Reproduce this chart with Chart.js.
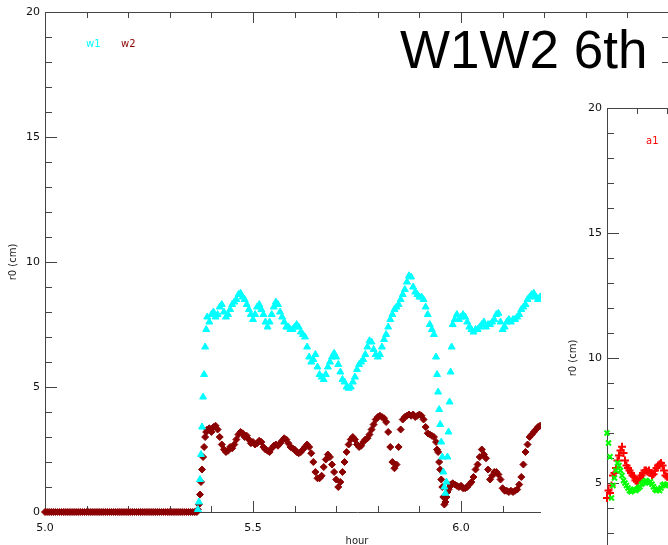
<!DOCTYPE html>
<html>
<head>
<meta charset="utf-8">
<title>W1W2 6th</title>
<script src="https://cdn.jsdelivr.net/npm/chart.js@4.4.1/dist/chart.umd.min.js"></script>
<style>
  html, body { margin: 0; padding: 0; background: #fff; overflow: hidden; }
  #wrap { position: relative; width: 668px; height: 545px; overflow: hidden; }
  #rzChart { position: absolute; left: 0; top: 0; }
  #aChart { position: absolute; left: 541px; top: 76px; }
</style>
</head>
<body>
<div id="wrap">
  <canvas id="rzChart" width="670" height="545"></canvas>
  <canvas id="aChart" width="520" height="570"></canvas>
</div>
<script>
// sample spacing, hours
var step = 0.005;

// w2 sits at 0 before the dome opens
var w2FlatStart = 5.0;
var w2Flat = [
    0, 0, 0, 0, 0, 0, 0, 0, 0, 0,
    0, 0, 0, 0, 0, 0, 0, 0, 0, 0,
    0, 0, 0, 0, 0, 0, 0, 0, 0, 0,
    0, 0, 0, 0, 0, 0, 0, 0, 0, 0,
    0, 0, 0, 0, 0, 0, 0, 0, 0, 0,
    0, 0, 0, 0, 0, 0, 0, 0, 0, 0,
    0, 0, 0, 0, 0, 0, 0, 0, 0, 0,
    0, 0, 0, 0
];

// r0 (cm) from 5.37 h on
var dataStart = 5.37;
var w1 = [
    0.4, 2.3, 4.6, 6.6, 7.8, 7.6, 7.9, 8.0, 7.8, 7.9,
    8.2, 8.3, 8.0, 7.8, 7.9, 8.1, 8.3, 8.4, 8.5, 8.7,
    8.75, 8.6, 8.5, 8.3, 8.1, 7.9, 7.7, 7.9, 8.2, 8.3,
    8.1, 7.9, 7.6, 7.4, 7.6, 7.9, 8.2, 8.4, 8.3, 8.0,
    7.8, 7.6, 7.4, 7.4, 7.3, 7.3, 7.4, 7.5, 7.4, 7.2,
    7.1, 7.0, 6.6, 6.2, 6.0, 6.1, 6.3, 5.8, 5.5, 5.4,
    5.3, 5.5, 5.8, 6.0, 6.2, 6.35, 6.2, 5.9, 5.6, 5.3,
    5.2, 5.0, 4.95, 5.0, 5.2, 5.4, 5.7, 5.9, 6.0, 6.1,
    6.3, 6.6, 6.85, 6.8, 6.5, 6.3, 6.2, 6.3, 6.6, 6.9,
    7.1, 7.4, 7.7, 7.9, 8.1, 8.2, 8.3, 8.5, 8.7, 8.9,
    9.2, 9.45, 9.4, 9.0, 8.8, 8.7, 8.6, 8.6, 8.5, 8.2,
    7.9, 7.5, 7.3, 7.1, 6.2, 4.8, 3.5, 2.2, 1.0, 1.2,
    3.2, 5.6, 7.5, 7.7, 7.9, 7.7, 7.8, 7.9, 7.8, 7.6,
    7.4, 7.3, 7.2, 7.3, 7.3, 7.4, 7.5, 7.6, 7.4, 7.5,
    7.5, 7.6, 7.7, 7.9, 7.95, 7.6, 7.3, 7.4, 7.6, 7.7,
    7.6, 7.7, 7.7, 7.8, 7.9, 8.1, 8.2, 8.3, 8.5, 8.6,
    8.7, 8.75, 8.6, 8.5, 8.6
];
var w2 = [
    0.3, 1.2, 2.2, 3.0, 3.3, 3.35, 3.2, 3.4, 3.45, 3.3,
    3.0, 2.7, 2.5, 2.4, 2.45, 2.6, 2.55, 2.7, 2.9, 3.1,
    3.2, 3.15, 3.0, 3.05, 2.9, 2.75, 2.8, 2.7, 2.75, 2.85,
    2.8, 2.6, 2.5, 2.45, 2.4, 2.55, 2.65, 2.7, 2.65, 2.75,
    2.85, 2.95, 2.9, 2.75, 2.6, 2.55, 2.5, 2.4, 2.35, 2.4,
    2.5, 2.6, 2.7, 2.6, 2.35, 2.0, 1.6, 1.35, 1.35, 1.45,
    1.8, 2.1, 2.3, 2.2, 1.9, 1.6, 1.3, 1.0, 1.2, 1.6,
    2.0, 2.4, 2.7, 2.9, 3.0, 2.9, 2.7, 2.6, 2.65, 2.8,
    2.9, 2.95, 3.1, 3.3, 3.5, 3.7, 3.8, 3.85, 3.8, 3.75,
    3.6, 3.2, 2.6, 2.0, 1.75, 1.9, 2.6, 3.3, 3.7, 3.8,
    3.85, 3.9, 3.85, 3.9, 3.8, 3.85, 3.9, 3.85, 3.7, 3.4,
    3.15, 3.1, 3.05, 3.0, 2.8, 2.4, 1.7, 1.0, 0.3, 0.6,
    0.9, 1.1, 1.15, 1.1, 1.05, 1.0, 1.05, 0.95, 0.95, 1.0,
    1.1, 1.2, 1.4, 1.7, 1.9, 2.2, 2.5, 2.3, 2.15, 1.7,
    1.3, 1.45, 1.6, 1.6, 1.5, 1.3, 0.95, 0.85, 0.85, 0.8,
    0.85, 0.8, 0.85, 0.9, 1.1, 1.4, 1.9, 2.4, 2.7, 3.0,
    3.1, 3.2, 3.3, 3.4, 3.45
];

// extra samples on the steep edges (dome opening, dip near 5.96)
var edgeHours = [5.3675, 5.3725, 5.3775, 5.3825, 5.3875, 5.9425, 5.9475, 5.9525, 5.9575, 5.9625, 5.9675, 5.9725, 5.9775];
var w1Edge = [0.1, 1.3, 3.4, 5.5, 7.3, 5.5, 4.1, 2.8, 1.6, 0.75, 2.2, 4.4, 6.6];
var w2Edge = [0.1, 0.7, 1.7, 2.6, 3.2, 2.5, 2.0, 1.3, 0.6, 0.4, 0.8, 1.0, 1.1];

// second panel, only its left edge shows
var aStart = 5.0;
var a1 = [
    4.4, 4.7, 4.6, 4.9, 5.3, 5.4, 5.6, 5.9, 6.1, 6.3,
    6.45, 6.2, 5.9, 5.7, 5.6, 5.5, 5.4, 5.3, 5.25, 5.1,
    5.05, 5.1, 5.2, 5.3, 5.4, 5.5, 5.5, 5.45, 5.5, 5.4,
    5.3, 5.35, 5.5, 5.6, 5.7, 5.75, 5.8, 5.7, 5.5, 5.3,
    5.25
];
var a2 = [
    7.0, 6.6, 6.05, 4.4, 4.9, 5.2, 5.5, 5.8, 5.7, 5.5,
    5.3, 5.1, 5.0, 4.9, 4.8, 4.7, 4.65, 4.7, 4.75, 4.7,
    4.75, 4.8, 4.85, 4.95, 5.0, 5.05, 5.1, 5.05, 5.0, 5.05,
    4.95, 4.85, 4.75, 4.7, 4.75, 4.7, 4.8, 4.9, 4.95, 4.9,
    4.95
];

var hourTicks = [5.0, 5.5, 6.0, 6.5];
var r0Ticks = [0, 5, 10, 15, 20];

var tickFont = { family: 'DejaVu Sans', size: 11 };
var smallFont = { family: 'DejaVu Sans', size: 10 };

function toPoints(start, values) {
    return values.map(function (v, i) {
        return { x: +(start + i * step).toFixed(4), y: v };
    });
}

function pairPoints(xs, ys) {
    return xs.map(function (x, i) { return { x: x, y: ys[i] }; });
}

function isMajor(v, major) {
    return Math.abs(v / major - Math.round(v / major)) < 1e-6;
}

// IDL style box with inward ticks on all four sides
function idlFrame(xMinor, xMajor, yMinor, yMajor) {
    return {
        id: 'idlFrame',
        beforeDraw: function (chart) {
            if (!chart.options.whiteBg) return;
            var ctx = chart.ctx;
            ctx.save();
            ctx.fillStyle = '#fff';
            ctx.fillRect(0, 0, chart.width, chart.height);
            ctx.restore();
        },
        beforeDatasetsDraw: function (chart) {
            var ctx = chart.ctx, a = chart.chartArea;
            var xs = chart.scales.x, ys = chart.scales.y;
            ctx.save();
            ctx.strokeStyle = '#444';
            ctx.lineWidth = 1;
            ctx.beginPath();
            ctx.rect(Math.round(a.left) + 0.5, Math.round(a.top) + 0.5,
                Math.round(a.right - a.left), Math.round(a.bottom - a.top));
            var n = Math.round((xs.max - xs.min) / xMinor);
            for (var k = 0; k <= n; k++) {
                var v = xs.min + k * xMinor;
                var px = Math.round(xs.getPixelForValue(v)) + 0.5;
                var len = isMajor(v, xMajor) ? 11 : 6;
                ctx.moveTo(px, a.bottom); ctx.lineTo(px, a.bottom - len);
                ctx.moveTo(px, a.top); ctx.lineTo(px, a.top + len);
            }
            var m = Math.round((ys.max - ys.min) / yMinor);
            for (var j = 0; j <= m; j++) {
                var w = ys.min + j * yMinor;
                var py = Math.round(ys.getPixelForValue(w)) + 0.5;
                var l2 = isMajor(w, yMajor) ? 12 : 7;
                ctx.moveTo(a.left, py); ctx.lineTo(a.left + l2, py);
                ctx.moveTo(a.right, py); ctx.lineTo(a.right - l2, py);
            }
            ctx.stroke();
            ctx.restore();
        },
        afterDraw: function (chart) {
            var ctx = chart.ctx, a = chart.chartArea;
            var notes = chart.options.notes || [];
            ctx.save();
            ctx.textBaseline = 'alphabetic';
            notes.forEach(function (n) {
                ctx.font = n.font;
                ctx.fillStyle = n.color;
                ctx.fillText(n.text, n.abs ? n.x : a.left + n.x, n.abs ? n.y : a.top + n.y);
            });
            ctx.restore();
        }
    };
}

function axes(yWidth, xHeight, yTitlePad) {
    return {
        x: {
            type: 'linear', min: 5.0, max: 6.5,
            afterFit: function (s) {
                s.height = xHeight;
                s.paddingLeft = 0;
                s.paddingRight = 0;
            },
            afterBuildTicks: function (s) { s.ticks = hourTicks.map(function (v) { return { value: v }; }); },
            grid: { display: false, drawTicks: false },
            border: { display: false },
            ticks: {
                padding: 10, font: tickFont, color: '#111', autoSkip: false, maxRotation: 0,
                callback: function (v) { return Number(v).toFixed(1); }
            },
            title: { display: true, text: 'hour', font: smallFont, color: '#222', padding: { top: 0, bottom: -2 } }
        },
        y: {
            type: 'linear', min: 0, max: 20,
            afterFit: function (s) {
                s.width = yWidth;
                s.paddingTop = 0;
                s.paddingBottom = 0;
            },
            afterBuildTicks: function (s) { s.ticks = r0Ticks.map(function (v) { return { value: v }; }); },
            grid: { display: false, drawTicks: false },
            border: { display: false },
            ticks: { padding: 5, font: tickFont, color: '#111', autoSkip: false },
            title: { display: true, text: 'r0 (cm)', font: smallFont, color: '#222', padding: { top: yTitlePad, bottom: 0 } }
        }
    };
}

var rz = new Chart(document.getElementById('rzChart'), {
    type: 'scatter',
    data: {
        datasets: [
            {
                label: 'w1',
                data: toPoints(dataStart, w1).concat(pairPoints(edgeHours, w1Edge)),
                pointStyle: 'triangle',
                pointRadius: 4,
                borderWidth: 1,
                borderColor: '#00ffff',
                backgroundColor: '#00ffff',
                clip: false
            },
            {
                label: 'w2',
                data: toPoints(w2FlatStart, w2Flat).concat(toPoints(dataStart, w2), pairPoints(edgeHours, w2Edge)),
                pointStyle: 'rectRot',
                pointRadius: 3.5,
                borderWidth: 1,
                borderColor: '#8b0000',
                backgroundColor: '#8b0000',
                clip: false
            }
        ]
    },
    options: {
        responsive: false,
        animation: false,
        devicePixelRatio: 1,
        layout: { autoPadding: false, padding: { top: 12, right: 1, left: 0, bottom: 0 } },
        plugins: { legend: { display: false }, tooltip: { enabled: false } },
        scales: axes(45, 33, 7),
        notes: [
            { text: 'w1', x: 41, y: 35, color: '#00ffff', font: '10px "DejaVu Sans"' },
            { text: 'w2', x: 76, y: 35, color: '#8b0000', font: '10px "DejaVu Sans"' },
            { text: 'W1W2 6th', x: 400, y: 68, abs: true, color: '#000', font: '53px "Liberation Sans"' }
        ]
    },
    plugins: [idlFrame(0.1, 0.5, 1, 5)]
});

var aPanel = new Chart(document.getElementById('aChart'), {
    type: 'scatter',
    data: {
        datasets: [
            {
                label: 'a2',
                data: toPoints(aStart, a2),
                pointStyle: 'crossRot',
                pointRadius: 3.5,
                borderWidth: 2,
                borderColor: '#00ff00',
                clip: false
            },
            {
                label: 'a1',
                data: toPoints(aStart, a1),
                pointStyle: 'cross',
                pointRadius: 4,
                borderWidth: 2,
                borderColor: '#ff0000',
                clip: false
            }
        ]
    },
    options: {
        responsive: false,
        animation: false,
        devicePixelRatio: 1,
        whiteBg: true,
        layout: { autoPadding: false, padding: { top: 32, right: 4, left: 0, bottom: 0 } },
        plugins: { legend: { display: false }, tooltip: { enabled: false } },
        scales: axes(66, 38, 26),
        notes: [
            { text: 'a1', x: 39, y: 36, color: '#ff0000', font: '10px "DejaVu Sans"' }
        ]
    },
    plugins: [idlFrame(0.1, 0.5, 1, 5)]
});
</script>
</body>
</html>
